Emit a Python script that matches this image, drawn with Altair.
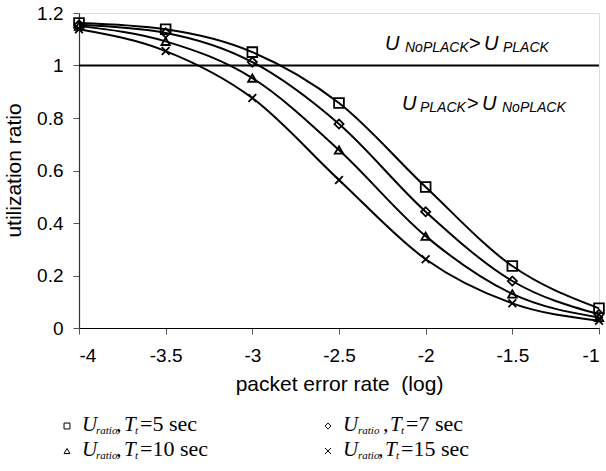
import altair as alt
import pandas as pd

# ---------------- data ----------------
per = [-4, -3.5, -3, -2.5, -2, -1.5, -1]
u_t5 = [1.162, 1.138, 1.051, 0.857, 0.537, 0.236, 0.075]
u_t7 = [1.155, 1.124, 1.013, 0.777, 0.443, 0.179, 0.052]
u_t10 = [1.150, 1.092, 0.952, 0.678, 0.350, 0.130, 0.040]
u_t15 = [1.138, 1.055, 0.876, 0.564, 0.262, 0.094, 0.028]
series_names = ["T5", "T7", "T10", "T15"]
x_ticks = [-4, -3.5, -3, -2.5, -2, -1.5, -1]
y_ticks = [0, 0.2, 0.4, 0.6, 0.8, 1, 1.2]
threshold = [1]

# ---------------- layout ----------------
LEFT, TOP, W, H = 79, 13, 520, 315
SANS = "Liberation Sans"
SERIF = "Liberation Serif"

rows = []
for name, vals in zip(series_names, [u_t5, u_t7, u_t10, u_t15]):
    for x, v in zip(per, vals):
        rows.append({"per": x, "u": v, "series": name})
df = pd.DataFrame(rows)

X_PATH = "M-1,-1L1,1M-1,1L1,-1"
shape_scale = alt.Scale(domain=series_names,
                        range=["square", "diamond", "triangle-up", X_PATH])
size_scale = alt.Scale(domain=series_names, range=[95, 60, 100, 100])

xs = alt.Scale(domain=[-4, -1], nice=False, zero=False)
ys = alt.Scale(domain=[0, 1.2], nice=False, zero=False)

base = alt.Chart(df)

lines = base.mark_line(interpolate="monotone", color="black", strokeWidth=2).encode(
    x=alt.X("per:Q", scale=xs,
            axis=alt.Axis(values=x_ticks, labelExpr="datum.value + ''",
                          title="packet error rate \u00a0(log)", grid=False,
                          domainColor="black", domainWidth=1.2,
                          tickColor="#555", tickSize=6, labelPadding=12,
                          labelFont=SANS, labelFontSize=19, labelColor="black",
                          titleFont=SANS, titleFontSize=21, titleFontWeight="normal",
                          titleColor="black", titleBaseline="alphabetic", titleY=62)),
    y=alt.Y("u:Q", scale=ys,
            axis=alt.Axis(values=y_ticks, labelExpr="datum.value + ''",
                          title="utilization ratio", grid=False,
                          domainColor="#333", domainWidth=1.2,
                          tickColor="#555", tickSize=6, labelPadding=10,
                          labelFont=SANS, labelFontSize=19, labelColor="black",
                          titleFont=SANS, titleFontSize=21, titleFontWeight="normal",
                          titleColor="black", titleBaseline="alphabetic",
                          titleX=-59, titleY=157)),
    detail="series:N",
)

points = base.mark_point(filled=False, color="black", strokeWidth=1.8, opacity=1).encode(
    x=alt.X("per:Q", scale=xs),
    y=alt.Y("u:Q", scale=ys),
    shape=alt.Shape("series:N", scale=shape_scale, legend=None),
    size=alt.Size("series:N", scale=size_scale, legend=None),
)

rule = alt.Chart(pd.DataFrame({"t": threshold})).mark_rule(
    color="black", strokeWidth=2).encode(y=alt.Y("t:Q", scale=ys))

# ---------------- annotations (region labels) ----------------
ann_big, ann_sub, ann_norm = [], [], []
ann_lines = [
    (50, [("U", 385, "I"), ("NoPLACK", 405, "s"), (">", 469, "N"), ("U", 484, "I"), ("PLACK", 503, "s")]),
    (110, [("U", 402, "I"), ("PLACK", 420, "s"), (">", 467, "N"), ("U", 482, "I"), ("NoPLACK", 502, "s")]),
]
for bl, pieces in ann_lines:
    for txt, ax, st in pieces:
        rec = {"text": txt, "px": ax - LEFT, "py": bl - TOP + (2 if st == "s" else 0)}
        {"I": ann_big, "s": ann_sub, "N": ann_norm}[st].append(rec)


def text_layer(recs, font, size, style="normal"):
    return alt.Chart(pd.DataFrame(recs)).mark_text(
        align="left", baseline="alphabetic", font=font, fontSize=size,
        fontStyle=style, color="black").encode(
        x=alt.X("px:Q", scale=None, axis=None),
        y=alt.Y("py:Q", scale=None, axis=None),
        text="text:N")


# ---------------- legend (custom, below the plot) ----------------
leg_entries = [
    ("T5", 67, 431, [("U", 15, "I"), ("ratio", 29, "s"), (",", 49, "N"), ("T", 57, "I"), ("t", 68, "s"), ("=5 sec", 73, "N")]),
    ("T7", 328, 431, [("U", 15, "I"), ("ratio", 30, "s"), (",", 55, "N"), ("T", 62, "I"), ("t", 73, "s"), ("=7 sec", 78, "N")]),
    ("T10", 67, 456, [("U", 15, "I"), ("ratio", 29, "s"), (",", 49, "N"), ("T", 57, "I"), ("t", 68, "s"), ("=10 sec", 73, "N")]),
    ("T15", 328, 456, [("U", 15, "I"), ("ratio", 30, "s"), (",", 50, "N"), ("T", 57, "I"), ("t", 68, "s"), ("=15 sec", 73, "N")]),
]
leg_big, leg_sub, leg_norm, leg_sym = [], [], [], []
for name, sx, bl, pieces in leg_entries:
    leg_sym.append({"series": name, "px": sx - LEFT, "py": bl - 5 - TOP})
    for txt, dx, st in pieces:
        rec = {"text": txt, "px": sx + dx - LEFT, "py": bl - TOP + (3 if st == "s" else 0)}
        {"I": leg_big, "s": leg_sub, "N": leg_norm}[st].append(rec)

leg_symbols = alt.Chart(pd.DataFrame(leg_sym)).mark_point(
    filled=False, color="black", strokeWidth=1, opacity=1, size=35).encode(
    x=alt.X("px:Q", scale=None, axis=None),
    y=alt.Y("py:Q", scale=None, axis=None),
    shape=alt.Shape("series:N", scale=shape_scale, legend=None),
)

chart = alt.layer(
    rule, lines, points,
    text_layer(ann_big, SANS, 20, "italic"),
    text_layer(ann_sub, SANS, 14, "italic"),
    text_layer(ann_norm, SANS, 20),
    leg_symbols,
    text_layer(leg_big, SERIF, 21, "italic"),
    text_layer(leg_sub, SERIF, 11, "italic"),
    text_layer(leg_norm, SERIF, 22),
).properties(
    width=W, height=H,
    autosize=alt.AutoSizeParams(type="none"),
    padding={"left": LEFT, "top": TOP, "right": 606 - LEFT - W, "bottom": 471 - TOP - H},
).configure_view(stroke=None).configure(background="white")

chart.save("out.html", embed_options={"renderer": "svg", "actions": False})
